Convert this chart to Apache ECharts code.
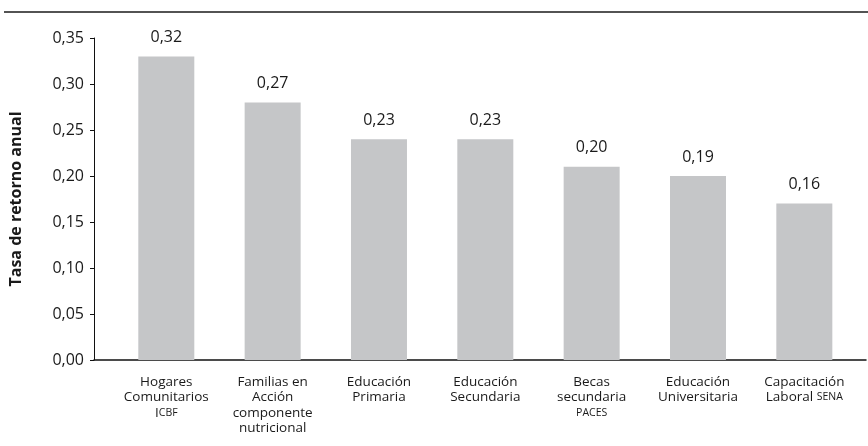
<!DOCTYPE html>
<html>
<head>
<meta charset="utf-8">
<script src="https://cdn.jsdelivr.net/npm/echarts@6/dist/echarts.min.js"></script>
<style>
  html, body { margin: 0; padding: 0; background: #fff; }
  #chart { width: 868px; height: 446px; }
</style>
</head>
<body>
<div id="chart"></div>
<script>
// categorias del eje x (las siglas van en versalitas)
var aCategorias = [
    'Hogares\nComunitarios\n{n|I}{sc|CBF}',
    'Familias en\nAcción\ncomponente\nnutricional',
    'Educación\nPrimaria',
    'Educación\nSecundaria',
    'Becas\nsecundaria\n{sc|PACES}',
    'Educación\nUniversitaria',
    'Capacitación\n{n|Laboral }{sc|SENA}'
];
// altura de las barras
var aValores = [0.33, 0.28, 0.24, 0.24, 0.21, 0.20, 0.17];
// etiquetas que se muestran encima de cada barra
var aEtiquetas = ['0,32', '0,27', '0,23', '0,23', '0,20', '0,19', '0,16'];
var aPosiciones = [0, 1, 2, 3, 4, 5, 6];

var sFuente = '"Open Sans", sans-serif';

function GetSeriesData() {
    var aData = [];
    for (var i = 0; i < aValores.length; i++) {
        aData.push([aPosiciones[i], aValores[i]]);
    }
    return aData;
}

var jOption = {
    animation: false,
    textStyle: { fontFamily: sFuente },
    grid: { left: 87, right: 2, top: 38, bottom: 86 },
    graphic: [{
        // linea superior del recuadro
        type: 'line',
        shape: { x1: 4, y1: 12, x2: 868, y2: 12 },
        style: { stroke: '#1a1a1a', lineWidth: 1.5 }
    }],
    xAxis: {
        type: 'value',
        min: -0.68,
        max: 6.58,
        splitLine: { show: false },
        axisTick: { show: false },
        axisLine: { show: true, lineStyle: { color: '#111', width: 1.5 } },
        axisLabel: {
            customValues: aPosiciones,
            formatter: function (v) { return aCategorias[v]; },
            color: '#1a1a1a',
            fontSize: 13.5,
            fontFamily: sFuente,
            lineHeight: 15.5,
            align: 'center',
            verticalAlign: 'top',
            margin: 14,
            rich: {
                n: { fontSize: 13.5, lineHeight: 15.5, color: '#1a1a1a', fontFamily: sFuente },
                sc: { fontSize: 10.5, lineHeight: 15.5, color: '#1a1a1a', fontFamily: sFuente }
            }
        }
    },
    yAxis: {
        type: 'value',
        min: 0,
        max: 0.35,
        interval: 0.05,
        name: 'Tasa de retorno anual',
        nameLocation: 'middle',
        nameGap: 70,
        nameTextStyle: { fontSize: 16, fontWeight: 'bold', color: '#1a1a1a', fontFamily: sFuente },
        splitLine: { show: false },
        axisLine: { show: true, onZero: false, lineStyle: { color: '#111', width: 1 } },
        axisTick: { show: true, inside: false, length: 4, lineStyle: { color: '#111' } },
        axisLabel: {
            color: '#1a1a1a',
            fontSize: 16,
            margin: 10,
            formatter: function (v) { return v.toFixed(2).replace('.', ','); }
        }
    },
    series: [{
        type: 'bar',
        barWidth: 56,
        itemStyle: { color: '#c5c6c8' },
        label: {
            show: true,
            position: 'top',
            distance: 11,
            color: '#1a1a1a',
            fontSize: 16,
            fontFamily: sFuente,
            formatter: function (p) { return aEtiquetas[p.dataIndex]; }
        },
        data: GetSeriesData()
    }]
};

var oChart = echarts.init(document.getElementById('chart'));
oChart.setOption(jOption);
</script>
</body>
</html>
